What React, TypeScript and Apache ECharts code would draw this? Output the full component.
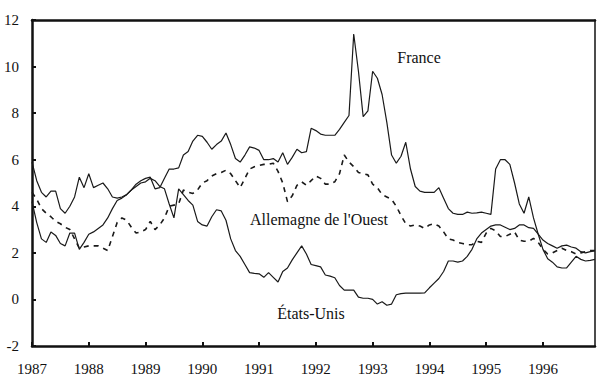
import React, { useEffect, useRef } from "react";
import * as echarts from "echarts";

const years = [1987, 1988, 1989, 1990, 1991, 1992, 1993, 1994, 1995, 1996];
const monthNames = ["01", "02", "03", "04", "05", "06", "07", "08", "09", "10", "11", "12"];

const france = [
  5.9, 5.1, 4.6, 4.4, 4.65, 4.65, 3.9, 3.7, 4.0, 4.4,
  5.25, 4.8, 5.4, 4.8, 4.9, 5.0, 4.75, 4.4, 4.35, 4.4,
  4.5, 4.7, 4.95, 5.1, 5.2, 5.25, 4.75, 4.8, 5.2, 5.6,
  5.6, 5.65, 6.2, 6.35, 6.8, 7.05, 7.0, 6.75, 6.45, 6.65,
  6.8, 7.15, 6.65, 6.05, 5.9, 6.2, 6.55, 6.5,
  6.4, 6.0, 6.0, 6.05, 5.9, 6.3, 5.8, 6.1, 6.45, 6.3,
  6.35, 7.35, 7.25, 7.1, 7.05, 7.05, 7.05, 7.3, 7.6, 7.9,
  11.4, 9.8, 7.85, 8.1, 9.8, 9.5, 8.8, 7.6, 6.2, 5.85,
  6.15, 6.75, 5.6, 4.85, 4.65, 4.6, 4.6, 4.6, 4.8, 4.35,
  3.9, 3.7, 3.65, 3.65, 3.75, 3.7, 3.72, 3.75, 3.7, 3.65,
  5.6, 6.0, 6.0, 5.8, 5.0, 4.1, 3.7, 4.4, 3.5, 2.8,
  2.15, 1.75, 1.6, 1.4, 1.35, 1.35, 1.6, 1.85, 1.72, 1.65,
  1.68, 1.72,
];

const etatsUnis = [
  4.2, 3.3, 2.6, 2.45, 2.9, 2.75, 2.4, 2.3, 2.85, 2.85,
  2.15, 2.45, 2.8, 2.9, 3.05, 3.2, 3.5, 3.9, 4.25, 4.35,
  4.5, 4.7, 4.85, 5.0, 5.05, 5.2, 5.1, 4.85, 4.75, 4.1,
  3.5, 4.75, 4.5, 4.25, 4.05, 3.35, 3.2, 3.15, 3.55, 3.85,
  3.8, 3.4, 2.6, 2.1, 1.85, 1.5, 1.15, 1.12,
  1.1, 0.95, 1.15, 0.95, 0.75, 1.2, 1.35, 1.7, 2.0, 2.3,
  1.95, 1.5, 1.45, 1.4, 1.05, 1.0, 0.93, 0.6, 0.4, 0.4,
  0.4, 0.1, 0.05, 0.05, 0.0, -0.2, -0.1, -0.25, -0.2, 0.2,
  0.25, 0.27, 0.27, 0.27, 0.27, 0.28, 0.5, 0.7, 0.9, 1.2,
  1.65, 1.65, 1.6, 1.65, 1.85, 2.15, 2.6, 2.85, 3.0, 3.15,
  3.2, 3.2, 3.1, 3.0, 3.05, 3.2, 3.2, 3.08, 3.05, 2.8,
  2.55, 2.4, 2.3, 2.2, 2.3, 2.33, 2.25, 2.2, 2.05, 2.0,
  2.05, 2.08,
];

const allemagne = [
  4.6, 4.3, 3.9, 3.7, 3.55, 3.35, 3.25, 3.1, 3.0, 2.6,
  2.2, 2.25, 2.3, 2.3, 2.3, 2.2, 2.1, 2.7, 3.3, 3.5,
  3.4, 3.1, 2.85, 2.9, 3.0, 3.35, 3.0, 3.2, 3.5, 4.0,
  4.05, 4.1, 4.7, 4.6, 4.55, 4.7, 5.0, 5.1, 5.3, 5.4,
  5.45, 5.55, 5.4, 5.1, 4.8, 5.2, 5.6, 5.7,
  5.75, 5.8, 5.8, 5.85, 5.5, 5.0, 4.2, 4.45, 4.9, 5.05,
  4.9, 5.1, 5.3, 5.2, 4.95, 4.95, 5.05, 5.4, 6.2, 5.9,
  5.7, 5.45, 5.4, 5.35, 4.95, 4.8, 4.5, 4.4, 4.3, 4.0,
  3.6, 3.25, 3.15, 3.2, 3.15, 3.05, 3.2, 3.25, 3.15, 2.9,
  2.6, 2.55, 2.45, 2.4, 2.35, 2.35, 2.5, 2.45, 2.85, 3.05,
  2.95, 2.7, 2.7, 2.8, 2.9, 2.55, 2.5, 2.5, 2.62, 2.45,
  2.15, 1.95, 2.0, 2.1, 2.2, 2.1, 2.05, 1.95, 2.0, 2.05,
  2.1, 2.1,
];

const yMin = -2;
const yMax = 12;
const yStep = 2;

const FONT = "Liberation Serif";

export default function App() {
  const ref = useRef<HTMLDivElement>(null);
  useEffect(() => {
    if (!ref.current) return;
    const chart = echarts.init(ref.current, null, { renderer: "svg" });
    const categories: string[] = [];
    years.forEach((y) => monthNames.forEach((m) => categories.push(`${y}-${m}`)));
    const lineCommon = { type: "line", symbol: "none", smooth: false, xAxisIndex: 0, yAxisIndex: 0 };
    const labelStyle = { fontFamily: FONT, fontSize: 16, fill: "#111", textAlign: "center", textVerticalAlign: "middle" };
    chart.setOption({
      animation: false,
      backgroundColor: "#ffffff",
      grid: { left: 32, top: 20, right: 8, bottom: 40 },
      xAxis: [
        {
          type: "category",
          data: categories,
          boundaryGap: false,
          position: "bottom",
          axisLine: { onZero: false, lineStyle: { color: "#111", width: 2.5 } },
          axisTick: { show: true, inside: true, interval: 11, length: 4, lineStyle: { color: "#111", width: 2 } },
          axisLabel: {
            interval: 11,
            margin: 15,
            color: "#111",
            fontFamily: FONT,
            fontSize: 15,
            formatter: (v: string) => v.slice(0, 4),
          },
          splitLine: { show: false },
        },
        {
          type: "category",
          data: categories,
          boundaryGap: false,
          position: "top",
          axisLine: { onZero: false, lineStyle: { color: "#111", width: 2.5 } },
          axisTick: { show: false },
          axisLabel: { show: false },
          splitLine: { show: false },
        },
      ],
      yAxis: [
        {
          type: "value",
          min: yMin,
          max: yMax,
          interval: yStep,
          position: "left",
          axisLine: { show: true, onZero: false, lineStyle: { color: "#111", width: 2.5 } },
          axisTick: { show: true, inside: true, length: 4, lineStyle: { color: "#111", width: 2 } },
          axisLabel: { margin: 13, color: "#111", fontFamily: FONT, fontSize: 15 },
          splitLine: { show: false },
        },
        {
          type: "value",
          min: yMin,
          max: yMax,
          interval: yStep,
          position: "right",
          axisLine: { show: true, onZero: false, lineStyle: { color: "#111", width: 1.5 } },
          axisTick: { show: false },
          axisLabel: { show: false },
          splitLine: { show: false },
        },
      ],
      series: [
        { ...lineCommon, name: "France", data: france, lineStyle: { color: "#1a1a1a", width: 1.2 } },
        {
          ...lineCommon,
          name: "Allemagne de l'Ouest",
          data: allemagne,
          lineStyle: { color: "#1a1a1a", width: 1.6, type: [5, 5] },
        },
        { ...lineCommon, name: "États-Unis", data: etatsUnis, lineStyle: { color: "#1a1a1a", width: 1.2 } },
      ],
      graphic: [
        { type: "text", x: 419, y: 57, style: { ...labelStyle, text: "France" } },
        { type: "text", x: 319, y: 219, style: { ...labelStyle, text: "Allemagne de l'Ouest" } },
        { type: "text", x: 311, y: 313, style: { ...labelStyle, text: "États-Unis" } },
      ],
    });
    return () => chart.dispose();
  }, []);
  return (
    <div
      ref={ref}
      style={{ position: "fixed", left: 0, top: 0, width: 603, height: 386, background: "#fff" }}
    />
  );
}
